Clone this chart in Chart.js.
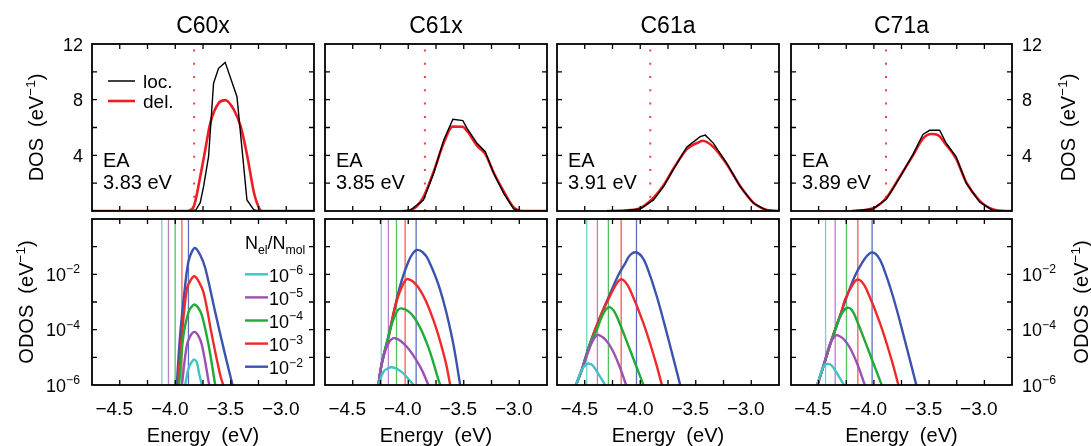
<!DOCTYPE html>
<html>
<head>
<meta charset="utf-8">
<script src="https://cdn.jsdelivr.net/npm/chart.js"></script>
<style>
  body { margin: 0; background: #fff; }
  #fig { position: relative; width: 1091px; height: 446px; overflow: hidden; }
  #fig canvas { position: absolute; left: 0; top: 0; }
</style>
</head>
<body>
<div id="fig"></div>
<script>
// ---- data ----
const molecules = ["C60x", "C61x", "C61a", "C71a"]
const eaValues = [3.83, 3.85, 3.91, 3.89]

const xTicks = [-4.5, -4.0, -3.5, -3.0]
const xTickLabels = ["−4.5", "−4.0", "−3.5", "−3.0"]
const xMinor = [-4.5, -4.25, -4.0, -3.75, -3.5, -3.25, -3.0]
const dosTicks = [4, 8, 12]
const dosTickLabels = ["4", "8", "12"]
const dosMinor = [2, 4, 6, 8, 10]
const odosTicks = [1e-6, 1e-4, 1e-2]
const odosTickExp = ["−6", "−4", "−2"]
const odosMinor = [1e-5, 1e-4, 1e-3, 1e-2, 1e-1]
const ratioExp = ["−6", "−5", "−4", "−3", "−2"]

// DOS (eV^-1) vs energy (eV), localized / delocalized
const c60xLoc = [[-3.95, 0], [-3.82, 0], [-3.775, 0.6], [-3.745, 1.75], [-3.70, 3.9], [-3.655, 9.17], [-3.61, 10.25], [-3.55, 10.68], [-3.444, 8.21], [-3.354, 0.79], [-3.294, 0.1], [-3.25, 0], [-2.75, 0]]
const c60xDel = [[-4.75, 0], [-3.895, 0], [-3.835, 0.3], [-3.775, 2.46], [-3.73, 4.38], [-3.685, 6.3], [-3.61, 7.74], [-3.55, 7.97], [-3.47, 7.25], [-3.41, 6.06], [-3.35, 3.9], [-3.29, 1.27], [-3.25, 0.3], [-3.22, 0], [-2.75, 0]]
const c61xLoc = [[-4.05, 0], [-3.983, 0.05], [-3.863, 0.79], [-3.772, 2.7], [-3.68, 5.1], [-3.598, 6.59], [-3.508, 6.49], [-3.47, 5.94], [-3.38, 4.86], [-3.306, 4.26], [-3.23, 2.7], [-3.14, 1.27], [-3.05, 0.15], [-2.99, 0]]
const c61xDel = [[-4.05, 0], [-3.983, 0.05], [-3.87, 0.9], [-3.772, 2.8], [-3.68, 4.9], [-3.60, 6.06], [-3.51, 6.05], [-3.47, 5.75], [-3.38, 4.7], [-3.306, 4.1], [-3.23, 2.75], [-3.14, 1.4], [-3.05, 0.25], [-2.97, 0], [-2.75, 0]]
const c61aLoc = [[-4.3, 0], [-4.15, 0.02], [-4.0, 0.15], [-3.88, 0.8], [-3.79, 1.75], [-3.70, 3.0], [-3.58, 4.6], [-3.46, 5.34], [-3.414, 5.45], [-3.34, 4.86], [-3.22, 3.42], [-3.10, 1.75], [-2.98, 0.55], [-2.86, 0.05], [-2.75, 0]]
const c61aDel = [[-4.3, 0], [-4.15, 0.03], [-4.0, 0.2], [-3.88, 0.95], [-3.79, 1.85], [-3.70, 3.05], [-3.58, 4.45], [-3.47, 4.95], [-3.44, 5.05], [-3.34, 4.6], [-3.22, 3.35], [-3.10, 1.8], [-2.98, 0.6], [-2.86, 0.08], [-2.75, 0]]
const c71aLoc = [[-4.2, 0], [-4.007, 0.15], [-3.886, 0.86], [-3.766, 2.4], [-3.646, 4.07], [-3.556, 5.5], [-3.496, 5.8], [-3.405, 5.8], [-3.345, 4.87], [-3.255, 3.9], [-3.164, 2.0], [-3.044, 0.65], [-2.924, 0.05], [-2.85, 0]]
const c71aDel = [[-4.2, 0], [-4.007, 0.2], [-3.886, 0.95], [-3.766, 2.45], [-3.646, 4.0], [-3.556, 5.2], [-3.48, 5.53], [-3.42, 5.45], [-3.345, 4.75], [-3.255, 3.75], [-3.164, 2.05], [-3.044, 0.75], [-2.924, 0.12], [-2.8, 0], [-2.75, 0]]

// Fermi levels (eV) for N_el/N_mol = 1e-6 ... 1e-2
const c60xFermi = [-4.121, -4.061, -4.001, -3.94, -3.881]
const c61xFermi = [-4.243, -4.179, -4.106, -4.028, -3.929]
const c61aFermi = [-4.482, -4.386, -4.287, -4.172, -4.034]
const c71aFermi = [-4.437, -4.35, -4.248, -4.145, -4.016]

// occupied DOS (eV^-1), one curve per concentration (1e-6 ... 1e-2)
const c60xOdos = [
  [[-3.911, 1e-6], [-3.88, 4.0e-6], [-3.85, 7.0e-6], [-3.827, 8.3e-6], [-3.805, 6.5e-6], [-3.785, 2.6e-6], [-3.76, 1e-6]],
  [[-3.94, 1e-6], [-3.895, 2.8e-5], [-3.86, 6.3e-5], [-3.827, 8.3e-5], [-3.795, 6.3e-5], [-3.76, 2.8e-5], [-3.694, 1e-6]],
  [[-3.965, 1e-6], [-3.926, 6.3e-5], [-3.881, 4.3e-4], [-3.855, 6.6e-4], [-3.827, 8.1e-4], [-3.795, 6.3e-4], [-3.76, 3.3e-4], [-3.70, 2.8e-5], [-3.64, 1e-6]],
  [[-3.977, 1e-6], [-3.94, 6.3e-5], [-3.895, 3.0e-3], [-3.86, 6.3e-3], [-3.827, 8.5e-3], [-3.79, 5.6e-3], [-3.745, 2.2e-3], [-3.67, 6.3e-5], [-3.595, 2.3e-6], [-3.568, 1e-6]],
  [[-3.986, 1e-6], [-3.956, 6.3e-5], [-3.911, 3.9e-3], [-3.881, 2.9e-2], [-3.85, 6.6e-2], [-3.82, 8.9e-2], [-3.775, 5.0e-2], [-3.73, 1.7e-2], [-3.64, 4.3e-4], [-3.55, 1.2e-5], [-3.484, 1e-6]]
]
const c61xOdos = [
  [[-4.269, 1e-6], [-4.224, 3.0e-6], [-4.185, 4.0e-6], [-4.148, 4.4e-6], [-4.10, 3.8e-6], [-4.043, 2.6e-6], [-3.953, 1e-6]],
  [[-4.269, 1e-6], [-4.238, 6.0e-6], [-4.179, 3.2e-5], [-4.118, 4.9e-5], [-4.013, 2.4e-5], [-3.893, 4.6e-6], [-3.818, 1e-6]],
  [[-4.269, 1e-6], [-4.238, 6.0e-6], [-4.179, 5.6e-5], [-4.118, 3.4e-4], [-4.064, 5.9e-4], [-3.953, 3.0e-4], [-3.832, 3.2e-5], [-3.727, 1.5e-6], [-3.712, 1e-6]],
  [[-4.269, 1e-6], [-4.238, 6.3e-6], [-4.179, 5.0e-5], [-4.118, 6.8e-4], [-4.058, 3.5e-3], [-4.004, 6.8e-3], [-3.893, 2.7e-3], [-3.773, 2.2e-4], [-3.667, 7.9e-6], [-3.622, 1e-6]],
  [[-4.269, 1e-6], [-4.238, 6.3e-6], [-4.179, 5.6e-5], [-4.118, 7.1e-4], [-4.058, 6.2e-3], [-3.998, 2.9e-2], [-3.96, 5.6e-2], [-3.923, 7.6e-2], [-3.87, 6.3e-2], [-3.818, 3.3e-2], [-3.712, 2.7e-3], [-3.607, 5.6e-5], [-3.532, 1e-6]]
]
const c61aOdos = [
  [[-4.579, 1e-6], [-4.527, 3.5e-6], [-4.49, 5.4e-6], [-4.465, 6.0e-6], [-4.43, 5.2e-6], [-4.362, 2.0e-6], [-4.317, 1e-6]],
  [[-4.579, 1e-6], [-4.527, 3.5e-6], [-4.452, 2.4e-5], [-4.42, 4.5e-5], [-4.377, 6.5e-5], [-4.287, 3.2e-5], [-4.197, 6.0e-6], [-4.127, 1e-6]],
  [[-4.579, 1e-6], [-4.527, 3.5e-6], [-4.452, 3.2e-5], [-4.392, 9.8e-5], [-4.332, 3.9e-4], [-4.281, 6.5e-4], [-4.242, 5.1e-4], [-4.197, 2.2e-4], [-4.091, 1.8e-5], [-4.0, 2.0e-6], [-3.971, 1e-6]],
  [[-4.579, 1e-6], [-4.527, 3.5e-6], [-4.452, 3.2e-5], [-4.362, 2.8e-4], [-4.287, 1.26e-3], [-4.211, 4.8e-3], [-4.175, 6.6e-3], [-4.136, 5.4e-3], [-4.091, 2.7e-3], [-3.971, 1.7e-4], [-3.866, 7.9e-6], [-3.805, 1e-6]],
  [[-4.579, 1e-6], [-4.527, 3.5e-6], [-4.452, 3.2e-5], [-4.362, 2.8e-4], [-4.272, 2.0e-3], [-4.197, 9.5e-3], [-4.136, 2.5e-2], [-4.091, 5.0e-2], [-4.04, 6.3e-2], [-3.986, 4.4e-2], [-3.94, 1.9e-2], [-3.85, 1.55e-3], [-3.745, 4.3e-5], [-3.64, 1e-6]]
]
const c71aOdos = [
  [[-4.512, 1e-6], [-4.47, 3.5e-6], [-4.444, 5.4e-6], [-4.419, 5.8e-6], [-4.384, 5.2e-6], [-4.316, 2.0e-6], [-4.271, 1e-6]],
  [[-4.512, 1e-6], [-4.458, 4.6e-6], [-4.407, 2.4e-5], [-4.375, 4.5e-5], [-4.332, 6.3e-5], [-4.242, 3.2e-5], [-4.152, 6.0e-6], [-4.082, 1e-6]],
  [[-4.512, 1e-6], [-4.458, 4.6e-6], [-4.383, 4.2e-5], [-4.35, 9.8e-5], [-4.29, 3.9e-4], [-4.239, 6.2e-4], [-4.20, 5.1e-4], [-4.155, 2.2e-4], [-4.049, 1.8e-5], [-3.958, 2.0e-6], [-3.929, 1e-6]],
  [[-4.512, 1e-6], [-4.458, 4.6e-6], [-4.383, 4.2e-5], [-4.293, 4.5e-4], [-4.26, 1.26e-3], [-4.184, 4.8e-3], [-4.148, 6.5e-3], [-4.109, 5.4e-3], [-4.064, 2.7e-3], [-3.944, 1.7e-4], [-3.839, 7.9e-6], [-3.778, 1e-6]],
  [[-4.512, 1e-6], [-4.458, 4.6e-6], [-4.383, 4.2e-5], [-4.293, 4.5e-4], [-4.202, 4.5e-3], [-4.16, 1.1e-2], [-4.112, 2.4e-2], [-4.061, 4.7e-2], [-4.016, 6.2e-2], [-3.966, 4.6e-2], [-3.917, 1.9e-2], [-3.826, 1.55e-3], [-3.721, 4.3e-5], [-3.616, 1e-6]]
]

const locSeries = [c60xLoc, c61xLoc, c61aLoc, c71aLoc]
const delSeries = [c60xDel, c61xDel, c61aDel, c71aDel]
const fermiSeries = [c60xFermi, c61xFermi, c61aFermi, c71aFermi]
const odosSeries = [c60xOdos, c61xOdos, c61aOdos, c71aOdos]

// ---- look ----
const FONT = '"Liberation Sans", Arial, Helvetica, sans-serif'
const W = 1091, H = 446
const colLeft = [92, 325, 557, 791]
const colRight = [314, 547, 779, 1012]
const rowTop = [44, 219]
const rowBottom = [211, 385]
const curveColors = ["#3fc3c3", "#9b50b6", "#22aa38", "#ee2a2a", "#3a54ae"]
const lineColors = ["#6fd2d2", "#b77fca", "#55c060", "#f25a5a", "#5870bf"]

function drawRuns(ctx, runs, x, y, size, align) {
  const parts = runs.map(([t, k]) => {
    const s = k ? size * 0.68 : size
    ctx.font = s + "px " + FONT
    return { t, k, s, w: ctx.measureText(t).width }
  })
  const total = parts.reduce((s, p) => s + p.w, 0)
  let cx = align === "right" ? x - total : align === "center" ? x - total / 2 : x
  ctx.textAlign = "left"
  parts.forEach(p => {
    ctx.font = p.s + "px " + FONT
    const dy = p.k > 0 ? -size * 0.42 : p.k < 0 ? size * 0.3 : 0
    ctx.fillText(p.t, cx, y + dy)
    cx += p.w
  })
}

const decor = {
  id: "decor",
  afterDatasetsDraw(chart, args, o) {
    const { ctx, chartArea: a } = chart
    const x = chart.scales.x, y = chart.scales.y
    const row = o.row, col = o.col
    const midX = (a.left + a.right) / 2, midY = (a.top + a.bottom) / 2
    ctx.save()
    ctx.strokeStyle = "#000"
    ctx.fillStyle = "#000"
    ctx.textBaseline = "alphabetic"

    // inward ticks on all sides
    ctx.lineWidth = 1.3
    ctx.beginPath()
    xMinor.forEach(v => {
      const px = x.getPixelForValue(v)
      ctx.moveTo(px, a.top); ctx.lineTo(px, a.top + 5)
      ctx.moveTo(px, a.bottom); ctx.lineTo(px, a.bottom - 5)
    })
    ;(row ? odosMinor : dosMinor).forEach(v => {
      const py = y.getPixelForValue(v)
      ctx.moveTo(a.left, py); ctx.lineTo(a.left + 5, py)
      ctx.moveTo(a.right, py); ctx.lineTo(a.right - 5, py)
    })
    ctx.stroke()
    ctx.lineWidth = 1.8
    ctx.strokeRect(a.left, a.top, a.right - a.left, a.bottom - a.top)

    if (row === 0) {
      ctx.font = "23px " + FONT
      ctx.textAlign = "center"
      ctx.fillText(molecules[col], midX, 33)
      ctx.font = "20px " + FONT
      ctx.textAlign = "left"
      ctx.fillText("EA", a.left + 11, 166.5)
      ctx.fillText(eaValues[col].toFixed(2) + " eV", a.left + 11, 188.5)
    } else {
      ctx.font = "19px " + FONT
      ctx.textAlign = "left"
      const mw = ctx.measureText("−").width
      xTicks.forEach((v, i) => {
        const px = x.getPixelForValue(v)
        const fw = ctx.measureText(xTickLabels[i]).width
        ctx.fillText(xTickLabels[i], px - (fw - mw) / 2 - mw, a.bottom + 30)
      })
      ctx.font = "20px " + FONT
      ctx.textAlign = "center"
      ctx.fillText("Energy  (eV)", midX, 442)
    }

    // y tick labels and axis titles on outer columns
    if (col === 0 || col === 3) {
      const left = col === 0
      const align = left ? "right" : "left"
      if (row === 0) {
        ctx.font = "18px " + FONT
        ctx.textAlign = align
        dosTicks.forEach((v, i) => {
          ctx.fillText(dosTickLabels[i], left ? a.left - 9 : a.right + 10, y.getPixelForValue(v) + 6.5)
        })
      } else {
        odosTicks.forEach((v, i) => {
          drawRuns(ctx, [["10", 0], [odosTickExp[i], 1]], left ? a.left - 12 : a.right + 10, y.getPixelForValue(v) + 6.5, 18, align)
        })
      }
      const tx = row === 0 ? (left ? 43 : 1075) : (left ? 33 : 1088)
      ctx.save()
      ctx.translate(tx, midY)
      ctx.rotate(-Math.PI / 2)
      drawRuns(ctx, [[row === 0 ? "DOS  (eV" : "ODOS  (eV", 0], ["−1", 1], [")", 0]], 0, 0, 20, "center")
      ctx.restore()
    }

    // legends
    if (col === 0 && row === 0) {
      ctx.lineWidth = 1.5
      ctx.strokeStyle = "#000"
      ctx.beginPath(); ctx.moveTo(108, 81); ctx.lineTo(135, 81); ctx.stroke()
      ctx.lineWidth = 2.6
      ctx.strokeStyle = "#ee1c24"
      ctx.beginPath(); ctx.moveTo(108, 101); ctx.lineTo(135, 101); ctx.stroke()
      ctx.font = "19px " + FONT
      ctx.textAlign = "left"
      ctx.fillText("loc.", 143, 87.5)
      ctx.fillText("del.", 143, 107.5)
    }
    if (col === 0 && row === 1) {
      drawRuns(ctx, [["N", 0], ["el", -1], ["/", 0], ["N", 0], ["mol", -1]], 245, 248.5, 18, "left")
      ratioExp.forEach((e, i) => {
        const ly = 274.3 + i * 23.1
        ctx.lineWidth = 2.4
        ctx.strokeStyle = curveColors[i]
        ctx.beginPath(); ctx.moveTo(245, ly); ctx.lineTo(268, ly); ctx.stroke()
        drawRuns(ctx, [["10", 0], [e, 1]], 269, ly + 7.5, 18, "left")
      })
    }
    ctx.restore()
  }
}

const pts = arr => arr.map(([x, y]) => ({ x, y }))

function makePanel(row, col) {
  const cv = document.createElement("canvas")
  cv.width = W
  cv.height = H
  document.getElementById("fig").appendChild(cv)

  let datasets
  if (row === 0) {
    const ea = -eaValues[col]
    datasets = [
      { data: pts(locSeries[col]), borderColor: "#000", borderWidth: 1.4, tension: 0, order: 0 },
      { data: pts(delSeries[col]), borderColor: "#ee1c24", borderWidth: 2.6, cubicInterpolationMode: "monotone", order: 1 },
      { data: [{ x: ea, y: 0 }, { x: ea, y: 12 }], borderColor: "#ff3b3b", borderWidth: 2, borderDash: [2, 11.3], order: 2 }
    ]
  } else {
    datasets = []
    fermiSeries[col].forEach((e, i) => datasets.push({
      data: [{ x: e, y: 1e-6 }, { x: e, y: 1 }], borderColor: lineColors[i], borderWidth: 1.3, order: 1
    }))
    odosSeries[col].forEach((c, i) => datasets.push({
      data: pts(c), borderColor: curveColors[i], borderWidth: 2.4, tension: 0.4, order: 0
    }))
  }

  new Chart(cv, {
    type: "line",
    data: { datasets },
    options: {
      responsive: false,
      animation: false,
      devicePixelRatio: 1,
      events: [],
      layout: { padding: { left: colLeft[col], right: W - colRight[col], top: rowTop[row], bottom: H - rowBottom[row] } },
      elements: { point: { radius: 0 } },
      plugins: { legend: { display: false }, tooltip: { enabled: false }, decor: { row, col } },
      scales: {
        x: { type: "linear", display: false, min: -4.75, max: -2.75 },
        y: row === 0
          ? { type: "linear", display: false, min: 0, max: 12 }
          : { type: "logarithmic", display: false, min: 1e-6, max: 1 }
      }
    },
    plugins: [decor]
  })
}

for (let r = 0; r < 2; r++) for (let c = 0; c < 4; c++) makePanel(r, c)
</script>
</body>
</html>
